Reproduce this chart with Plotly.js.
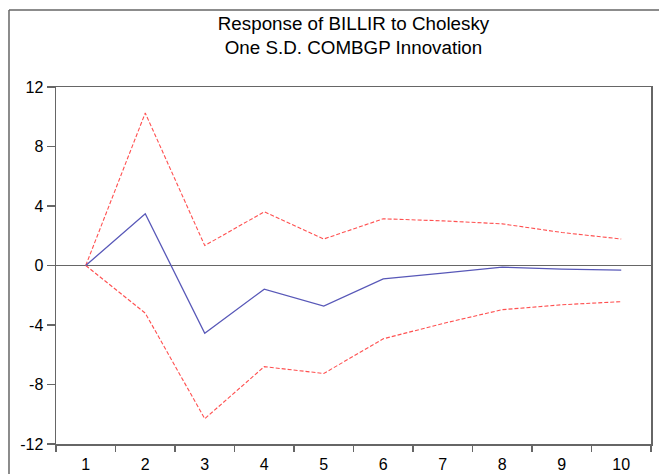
<!DOCTYPE html>
<html>
<head>
<meta charset="utf-8">
<script src="https://cdn.plot.ly/plotly-3.0.1.min.js"></script>
<style>html,body{margin:0;padding:0;background:#fff;}#chart{width:659px;height:474px;}</style>
</head>
<body>
<div id="chart"></div>
<script>
const periods = ['1','2','3','4','5','6','7','8','9','10'];
const response = [0, 3.48, -4.55, -1.59, -2.73, -0.9, -0.51, -0.11, -0.24, -0.31];
const upperBand = [0, 10.25, 1.34, 3.61, 1.78, 3.14, 3.0, 2.8, 2.22, 1.78];
const lowerBand = [0, -3.2, -10.3, -6.8, -7.26, -4.93, -3.9, -2.97, -2.64, -2.43];
const yTicks = [-12, -8, -4, 0, 4, 8, 12];

const red = '#ff5050';
const traces = [
  {x: periods, y: upperBand, type: 'scatter', mode: 'lines', line: {color: red, width: 1.1, dash: '4px,2px'}, hoverinfo: 'skip'},
  {x: periods, y: lowerBand, type: 'scatter', mode: 'lines', line: {color: red, width: 1.1, dash: '4px,2px'}, hoverinfo: 'skip'},
  {x: periods, y: response, type: 'scatter', mode: 'lines', line: {color: '#5858b8', width: 1.3}, hoverinfo: 'skip'}
];

const layout = {
  width: 659, height: 474,
  margin: {l: 56, r: 8, t: 87, b: 30},
  paper_bgcolor: '#fff', plot_bgcolor: '#fff',
  showlegend: false,
  font: {family: 'Liberation Sans, Arial, sans-serif', color: '#000'},
  title: {
    text: 'Response of BILLIR to Cholesky<br>One S.D. COMBGP Innovation',
    font: {size: 18.8, color: '#000'},
    x: 0.5, xanchor: 'center', xref: 'paper',
    y: 0.937, yanchor: 'top', yref: 'container'
  },
  xaxis: {
    type: 'category', tickson: 'boundaries',
    ticks: 'outside', ticklen: 6, tickcolor: '#666', tickwidth: 1.5,
    showline: true, linecolor: '#666', linewidth: 1.5, mirror: true,
    showgrid: false, zeroline: false,
    tickfont: {size: 16, color: '#000'}, ticklabelstandoff: 5,
    range: [-0.5, 9.5], fixedrange: true
  },
  yaxis: {
    range: [-12, 12], tickvals: yTicks, ticktext: yTicks.map(String),
    ticks: 'outside', ticklen: 8, tickcolor: '#666', tickwidth: 1.5,
    showline: true, linecolor: '#666', linewidth: 1.5, mirror: true,
    showgrid: false, zeroline: true, zerolinecolor: '#666', zerolinewidth: 1.5,
    tickfont: {size: 16, color: '#000'}, fixedrange: true
  },
  shapes: [
    {type: 'line', xref: 'paper', yref: 'paper', x0: -0.079, x1: -0.079, y0: 1.2157, y1: -0.2, line: {color: '#666', width: 1.5}},
    {type: 'line', xref: 'paper', yref: 'paper', x0: -0.079, x1: 1.2, y0: 1.2157, y1: 1.2157, line: {color: '#666', width: 1.5}}
  ]
};

Plotly.newPlot('chart', traces, layout, {displayModeBar: false, staticPlot: true});
</script>
</body>
</html>
